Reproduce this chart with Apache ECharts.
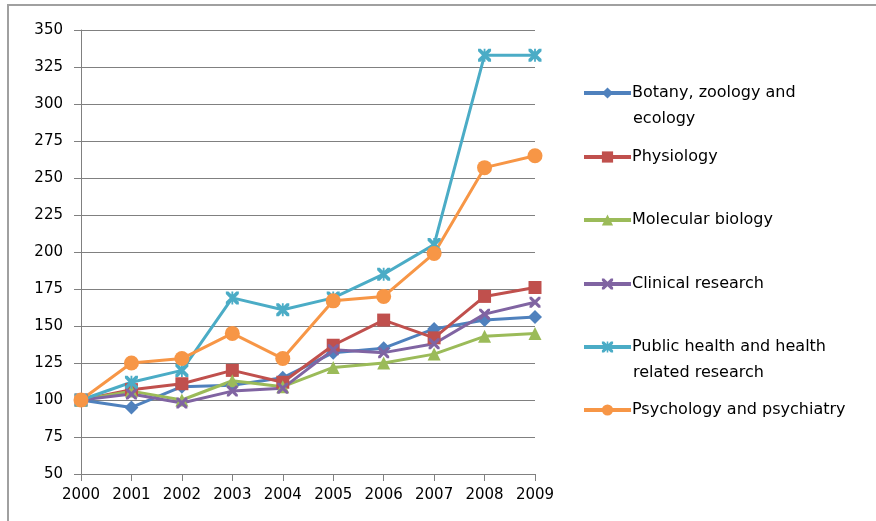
<!DOCTYPE html>
<html>
<head>
<meta charset="utf-8">
<script src="https://cdn.jsdelivr.net/npm/echarts@6/dist/echarts.min.js"></script>
<style>html,body{margin:0;padding:0;background:#fff}#c{width:876px;height:521px}</style>
</head>
<body>
<div id="c"></div>
<script>
var years = ['2000','2001','2002','2003','2004','2005','2006','2007','2008','2009'];
var seriesNames = ['Botany, zoology and ecology','Physiology','Molecular biology','Clinical research','Public health and health related research','Psychology and psychiatry'];
var botany = [100, 95, 109, 110, 115, 132, 135, 148, 154, 156];
var physiology = [100, 107, 111, 120, 112, 137, 154, 142, 170, 176];
var molecular = [100, 106, 100, 113, 109, 122, 125, 131, 143, 145];
var clinical = [100, 104, 98, 106, 108, 134, 132, 138, 158, 166];
var publicHealth = [100, 112, 120, 169, 161, 169, 185, 205, 333, 333];
var psychology = [100, 125, 128, 145, 128, 167, 170, 199, 257, 265];
var yMin = 50, yMax = 350, yStep = 25;

var colors = ['#4F81BD','#C0504D','#9BBB59','#8064A2','#4BACC6','#F79646'];
var xPath = 'path://M0,0 L2,0 L5,3 L8,0 L10,0 L10,2 L7,5 L10,8 L10,10 L8,10 L5,7 L2,10 L0,10 L0,8 L3,5 L0,2 Z';
var starPath = 'path://M0,0 L2,0 L5,3 L8,0 L10,0 L10,2 L7,5 L10,8 L10,10 L8,10 L5,7 L2,10 L0,10 L0,8 L3,5 L0,2 Z M4.3,0 L5.7,0 L5.7,10 L4.3,10 Z';
var symbols = ['diamond','rect','triangle',xPath,starPath,'circle'];
var sizes = [14,13,13,11,13,15];
var values = [botany, physiology, molecular, clinical, publicHealth, psychology];
var FONT = 'DejaVu Sans';

var series = seriesNames.map(function(n,i){
  return {
    name: n, type: 'line', data: values[i],
    symbol: symbols[i], symbolSize: sizes[i], showSymbol: true,
    itemStyle: {color: colors[i]},
    lineStyle: {width: 3, color: colors[i]},
    animation: false
  };
});

var legendFirstLine = ['Botany, zoology and','Physiology','Molecular biology','Clinical research','Public health and health','Psychology and psychiatry'];
var legendCY = [94, 158, 221, 285, 348, 411];
var legends = seriesNames.map(function(n,i){
  return {
    data: [n], left: 582, top: legendCY[i] - 9, orient: 'vertical',
    itemWidth: 47, itemHeight: 14, itemGap: 0, padding: 0,
    lineStyle: {width: 4},
    formatter: function(){ return legendFirstLine[i]; },
    textStyle: {fontFamily: FONT, fontSize: 16, color: '#000', padding: [0,0,0,-4]},
    selectedMode: false
  };
});

var chart = echarts.init(document.getElementById('c'));
chart.setOption({
  backgroundColor: '#fff',
  animation: false,
  grid: {left: 81, right: 341, top: 30, bottom: 47, containLabel: false},
  xAxis: {
    type: 'category', data: years, boundaryGap: false,
    axisLine: {lineStyle: {color: '#808080', width: 1}},
    axisTick: {show: true, length: 7, alignWithLabel: true, lineStyle: {color: '#808080'}},
    axisLabel: {fontFamily: FONT, fontSize: 15, color: '#000', margin: 14, interval: 0},
    splitLine: {show: false}
  },
  yAxis: {
    type: 'value', min: yMin, max: yMax, interval: yStep,
    axisLine: {show: true, lineStyle: {color: '#808080', width: 1}},
    axisTick: {show: true, length: 7, lineStyle: {color: '#808080'}},
    axisLabel: {fontFamily: FONT, fontSize: 15, color: '#000', margin: 18},
    splitLine: {show: true, lineStyle: {color: '#808080', width: 1}}
  },
  legend: legends,
  graphic: [
    {type: 'rect', shape: {x: 8, y: 5, width: 900, height: 600}, style: {fill: 'none', stroke: '#a0a0a0', lineWidth: 2}, silent: true, z: -1},
    {type: 'text', left: 633, top: 111, style: {text: 'ecology', font: '16px "DejaVu Sans"', fill: '#000'}},
    {type: 'text', left: 633, top: 365, style: {text: 'related research', font: '16px "DejaVu Sans"', fill: '#000'}}
  ],
  series: series
});
</script>
</body>
</html>
